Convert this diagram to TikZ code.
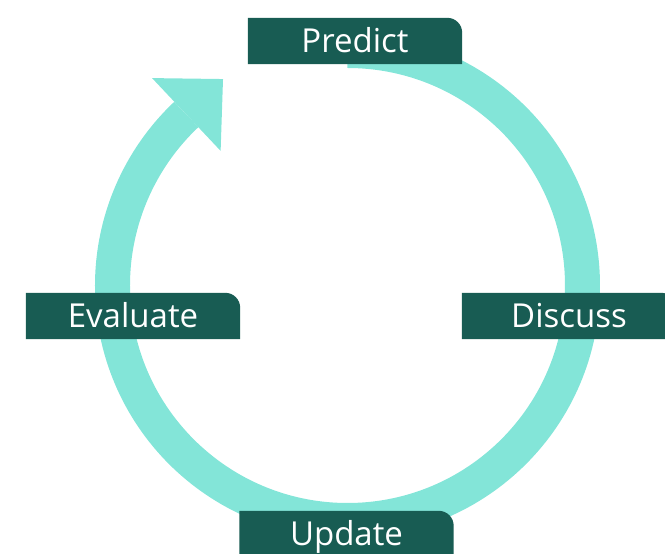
\documentclass[tikz,border=0pt]{standalone}
\usepackage{fontspec}
\setmainfont{Open Sans}
\usetikzlibrary{calc,backgrounds}

\definecolor{ringcol}{RGB}{131,229,216}
\definecolor{tabcol}{RGB}{24,92,83}

\tikzset{
  stage/.style={text=white, minimum width=214pt, minimum height=46pt,
    inner sep=0pt, text height=23.5pt, text depth=0pt,
    font=\fontsize{33}{33}\selectfont},
  ring/.style={draw=ringcol, line width=35pt},
}

\begin{document}
\begin{tikzpicture}[x=1pt,y=1pt]
	\useasboundingbox (-347.5,-268.5) rectangle (317.5,285.5);
	\coordinate (c) at (0,0);

	\node[stage] (predict) at (7.5,244.5) {Predict};
	\node[stage] (discuss) at (221.5,-30.5) {Discuss};
	\node[stage] (update) at (-1,-248.5) {Update};
	\node[stage] (evaluate) at (-214.5,-30.5) {Evaluate};

	\begin{scope}[on background layer]
		% the loop, clockwise from the top
		\draw[ring] ($(c)+(90:235)$) arc[start angle=90, end angle=-226.7, radius=235];
		\coordinate (tail) at ($(c)+(133.3:235)$);
		\fill[ringcol] ($(c)+(133.3:285)$) -- ($(tail)+(44:51)$) -- ($(c)+(133.3:185)$) -- cycle;

		% tabs, only the top right corner rounded
		\foreach \n in {predict,discuss,update,evaluate}
			\fill[tabcol] (\n.south west) -- (\n.north west) -- ($(\n.north east)+(-15,0)$)
				arc[start angle=90, end angle=0, radius=15] -- (\n.south east) -- cycle;
	\end{scope}
\end{tikzpicture}
\end{document}
